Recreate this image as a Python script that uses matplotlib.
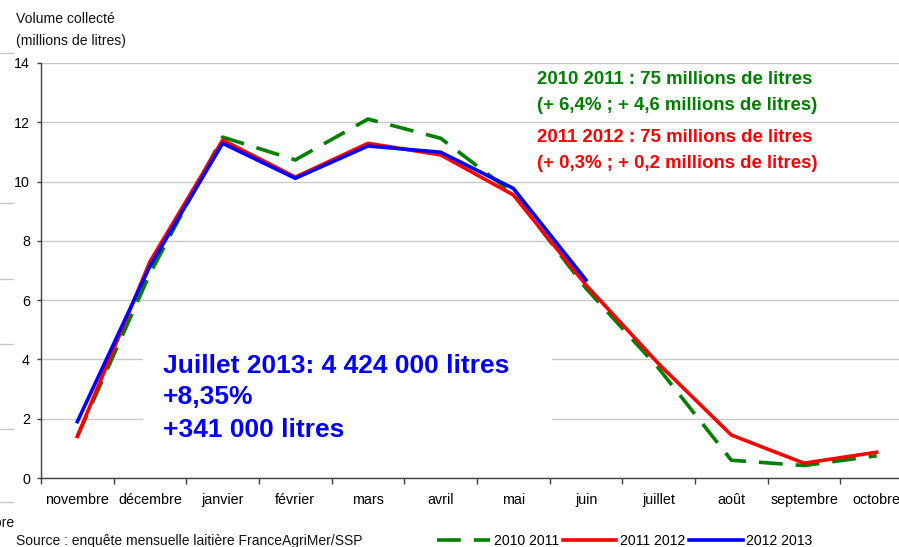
import matplotlib
matplotlib.use("Agg")
import matplotlib.pyplot as plt
from matplotlib.lines import Line2D
from matplotlib.patches import Rectangle
import numpy as np

months = ["novembre", "décembre", "janvier", "février", "mars", "avril",
          "mai", "juin", "juillet", "août", "septembre", "octobre"]
s_2010_2011 = [1.4, 6.9, 11.5, 10.73, 12.11, 11.46, 9.6, 6.4, 3.7, 0.6, 0.42, 0.75]
s_2011_2012 = [1.4, 7.3, 11.4, 10.15, 11.29, 10.9, 9.55, 6.51, 3.85, 1.45, 0.5, 0.87]
s_2012_2013 = [1.9, 7.15, 11.29, 10.11, 11.2, 10.99, 9.77, 6.68]
yticks = [0, 2, 4, 6, 8, 10, 12, 14]

plt.rcParams['font.family'] = ['Liberation Sans', 'DejaVu Sans']

W, H = 899, 547
fig = plt.figure(figsize=(W / 100, H / 100), dpi=100)
ax = fig.add_axes([41 / W, (H - 478) / H, 872 / W, (478 - 63) / H])

x = np.arange(len(months))
ax.plot(x, s_2010_2011, color="#008000", lw=2.6, dashes=(6.6, 3.6),
        label="2010 2011", zorder=3, dash_capstyle='butt')
ax.plot(x, s_2011_2012, color="#ff0000", lw=2.6, label="2011 2012", zorder=4)
ax.plot(np.arange(len(s_2012_2013)), s_2012_2013, color="#0000ff", lw=2.6,
        label="2012 2013", zorder=5)

ax.set_xlim(-0.5, len(months) - 0.5)
ax.set_ylim(0, 14)
ax.set_yticks(yticks)
ax.set_yticklabels([str(v) for v in yticks])
ax.yaxis.grid(True, color="#c8c8c8", lw=1)
ax.set_axisbelow(True)

ax.set_xticks(np.arange(len(months) + 1) - 0.5)
ax.set_xticklabels([])
ax.set_xticks(x, minor=True)
ax.set_xticklabels(months, minor=True)
ax.tick_params(axis='x', which='major', length=4, width=1, color="#404040", direction='out')
ax.tick_params(axis='x', which='minor', length=0, pad=11, labelsize=10.3)
ax.tick_params(axis='y', length=3, width=1, color="#404040", pad=5, labelsize=10.3)

for s in ["top", "right"]:
    ax.spines[s].set_visible(False)
for s in ["left", "bottom"]:
    ax.spines[s].set_color("#404040")
    ax.spines[s].set_linewidth(1)

# white box behind the blue annotation (hides the gridlines there)
ax.add_patch(Rectangle((143 / W, 1 - 450 / H), (552 - 143) / W, (450 - 340) / H,
                       transform=fig.transFigure, facecolor='white', edgecolor='none',
                       zorder=1.5))


def fig_text(px, py, s, **kw):
    fig.text(px / W, 1 - py / H, s, **kw)


fs_ann = 13.4
fig_text(537, 80, "2010 2011 : 75 millions de litres", fontsize=fs_ann, fontweight='bold',
         color="#008000", va='center')
fig_text(537, 106, "(+ 6,4% ; + 4,6 millions de litres)", fontsize=fs_ann, fontweight='bold',
         color="#008000", va='center')
fig_text(537, 138, "2011 2012 : 75 millions de litres", fontsize=fs_ann, fontweight='bold',
         color="#ff0000", va='center')
fig_text(537, 164, "(+ 0,3% ; + 0,2 millions de litres)", fontsize=fs_ann, fontweight='bold',
         color="#ff0000", va='center')

fs_big = 19
fig_text(163, 366, "Juillet 2013: 4 424 000 litres", fontsize=fs_big, fontweight='bold',
         color="#0000ff", va='center')
fig_text(163, 397, "+8,35%", fontsize=fs_big, fontweight='bold', color="#0000ff", va='center')
fig_text(163, 430, "+341 000 litres", fontsize=fs_big, fontweight='bold', color="#0000ff",
         va='center')

fs_small = 10.1
fig_text(16, 19, "Volume collecté", fontsize=fs_small, va='center', color="#111111")
fig_text(16, 41, "(millions de litres)", fontsize=fs_small, va='center', color="#111111")
fig_text(16, 541, "Source : enquête mensuelle laitière FranceAgriMer/SSP", fontsize=10,
         va='center', color="#111111")
fig_text(15, 523, "octobre", fontsize=fs_small, va='center', ha='right', color="#111111")

for py in [53, 203, 279, 344, 429, 502]:
    fig.add_artist(Line2D([0, 13 / W], [1 - py / H, 1 - py / H], color="#c8c8c8", lw=1))

leg = fig.legend(loc='center left', bbox_to_anchor=(437 / W, 1 - 541 / H), ncol=3,
                 frameon=False, fontsize=fs_small, handlelength=3.8, handletextpad=0.25,
                 columnspacing=0.3, borderpad=0, borderaxespad=0)

fig.savefig("out.png", dpi=100)
